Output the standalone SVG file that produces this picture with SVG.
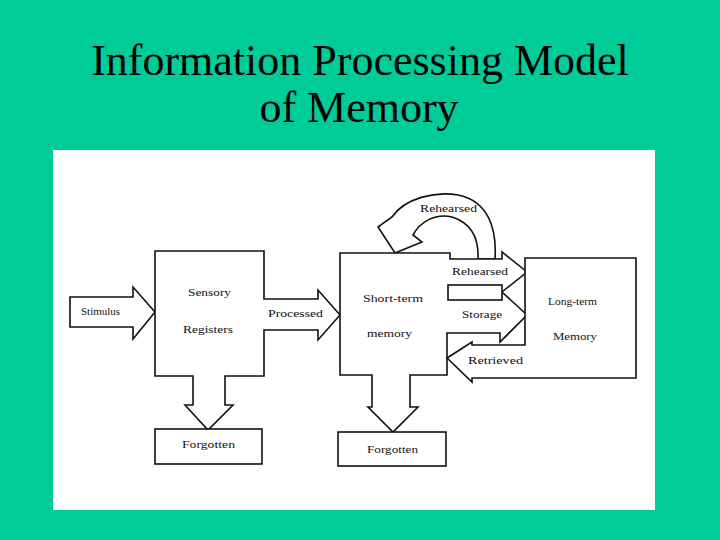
<svg xmlns="http://www.w3.org/2000/svg" width="720" height="540" viewBox="0 0 720 540">
  <style>
    .shape { fill: #ffffff; stroke: #111111; stroke-width: 1.6; stroke-linejoin: miter; }
    .lbl { font-family: "Liberation Serif", "DejaVu Serif", serif; font-size: 11px; fill: #111111; }
    .title { font-family: "Liberation Serif", "Times New Roman", serif; font-size: 44px; fill: #000000; text-anchor: middle; }
  </style>
  <rect x="0" y="0" width="720" height="540" fill="#00CC99"/>
  <text class="title" x="360" y="75">Information Processing Model</text>
  <text class="title" x="359" y="122">of Memory</text>
  <rect x="53" y="150" width="602" height="360" fill="#ffffff"/>

  <g id="connectors">
    <g id="stimulus-arrow">
      <polygon class="shape" points="70,297 133,297 133,287 155,312 133,339 133,327 70,327"/>
      <text class="lbl" x="81" y="315" textLength="39" lengthAdjust="spacingAndGlyphs">Stimulus</text>
    </g>
    <g id="rehearsed-loop">
      <path class="shape" d="M 392 217 C 405 198, 435 191, 458 195 C 488 201, 497 228, 495 259 L 478 259 C 479 238, 471 223, 452 217 C 435 213, 420 222, 413 235 L 422 242 L 395 253 L 378 227 Z"/>
      <text class="lbl" x="420" y="212" textLength="57" lengthAdjust="spacingAndGlyphs">Rehearsed</text>
    </g>
    <rect class="shape" x="448" y="285" width="54" height="15"/>
  </g>

  <g id="sensory">
    <polygon class="shape" points="155,251 264,251 264,299 318,299 318,290 340,315 318,340 318,330 264,330 264,376 225,376 225,405 233,405 208,430 185,405 193,405 193,376 155,376"/>
    <text class="lbl" x="188" y="296" textLength="43" lengthAdjust="spacingAndGlyphs">Sensory</text>
    <text class="lbl" x="183" y="333" textLength="50" lengthAdjust="spacingAndGlyphs">Registers</text>
    <text class="lbl" x="268" y="317" textLength="55" lengthAdjust="spacingAndGlyphs">Processed</text>
  </g>

  <g id="short-term">
    <polygon class="shape" points="340,253 450,253 450,259 502,259 502,252 527,272 502,292 527,315 500,342 500,333 447,333 447,375 410,375 410,407 418,407 393,432 368,407 372,407 372,375 340,375"/>
    <rect class="shape" x="448" y="285" width="54" height="15"/>
    <text class="lbl" x="363" y="302" textLength="60" lengthAdjust="spacingAndGlyphs">Short-term</text>
    <text class="lbl" x="367" y="337" textLength="45" lengthAdjust="spacingAndGlyphs">memory</text>
    <text class="lbl" x="452" y="275" textLength="56" lengthAdjust="spacingAndGlyphs">Rehearsed</text>
    <text class="lbl" x="462" y="318" textLength="40" lengthAdjust="spacingAndGlyphs">Storage</text>
  </g>

  <g id="long-term">
    <polygon class="shape" points="525,258 636,258 636,378 472,378 472,382 447,358 472,342 472,345 525,345"/>
    <text class="lbl" x="548" y="305" textLength="49" lengthAdjust="spacingAndGlyphs">Long-term</text>
    <text class="lbl" x="553" y="340" textLength="44" lengthAdjust="spacingAndGlyphs">Memory</text>
    <text class="lbl" x="468" y="364" textLength="55" lengthAdjust="spacingAndGlyphs">Retrieved</text>
  </g>

  <g id="forgotten-sensory">
    <rect class="shape" x="155" y="429" width="107" height="35"/>
    <text class="lbl" x="182" y="448" textLength="53" lengthAdjust="spacingAndGlyphs">Forgotten</text>
  </g>

  <g id="forgotten-short-term">
    <rect class="shape" x="338" y="432" width="108" height="34"/>
    <text class="lbl" x="367" y="453" textLength="51" lengthAdjust="spacingAndGlyphs">Forgotten</text>
  </g>
</svg>
